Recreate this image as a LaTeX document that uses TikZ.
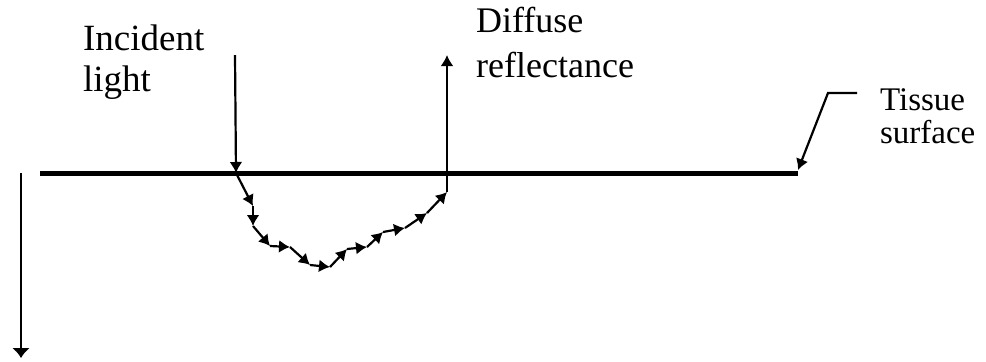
\documentclass[tikz,border=0pt]{standalone}
\usepackage{fontspec}
\setmainfont{Liberation Serif}
\usetikzlibrary{arrows.meta}

\begin{document}
\begin{tikzpicture}[x=0.5pt,y=-0.5pt,line width=1.1pt,>={Latex[length=5.5pt,width=6.5pt]}]
    \useasboundingbox (0,0) rectangle (986,361);
    % Labels
    \node[anchor=north west, inner sep=0, align=left, font=\fontsize{18.5}{20.5}\selectfont] (incident) at (82,24) {Incident\\light};
    \node[anchor=north west, inner sep=0, align=left, font=\fontsize{18}{22.5}\selectfont] (diffuse) at (475,6) {Diffuse\\reflectance};
    \node[anchor=north west, inner sep=0, align=left, font=\fontsize{16.5}{16.5}\selectfont] (tissue) at (879,88) {Tissue\\surface};

    % Points
    \coordinate (in) at (235,55);
    \coordinate (out) at (447,55);
    \coordinate (sl) at (40,173);
    \coordinate (sr) at (798,173);
    \coordinate (dtop) at (21,173);
    \coordinate (dbot) at (21,358);
    \coordinate (t1) at (857,93);
    \coordinate (t2) at (828,93);
    \coordinate (t3) at (798,170);
    \coordinate (p0) at (236,173);
    \coordinate (p1) at (253,206);
    \coordinate (p2) at (253,226);
    \coordinate (p3) at (270,246);
    \coordinate (p4) at (290,247);
    \coordinate (p5) at (310,265);
    \coordinate (p6) at (330,267);
    \coordinate (p7) at (347,249);
    \coordinate (p8) at (367,247);
    \coordinate (p9) at (383,232);
    \coordinate (p10) at (405,228);
    \coordinate (p11) at (427,213);
    \coordinate (p12) at (447,192);

    % Edges
    \draw[line width=2.5pt] (sl) -- (sr);
    \draw[->] (in) -- (p0);
    \draw[->] (p12) -- (out);
    \draw[-{Latex[length=5pt,width=9pt]}] (dtop) -- (dbot);
    \draw[->] (t1) -- (t2) -- (t3);

    \draw[->] (p0) -- (p1);
    \draw[->] (p1) -- (p2);
    \draw[->] (p2) -- (p3);
    \draw[->] (p3) -- (p4);
    \draw[->] (p4) -- (p5);
    \draw[->] (p5) -- (p6);
    \draw[->] (p6) -- (p7);
    \draw[->] (p7) -- (p8);
    \draw[->] (p8) -- (p9);
    \draw[->] (p9) -- (p10);
    \draw[->] (p10) -- (p11);
    \draw[->] (p11) -- (p12);
\end{tikzpicture}
\end{document}
